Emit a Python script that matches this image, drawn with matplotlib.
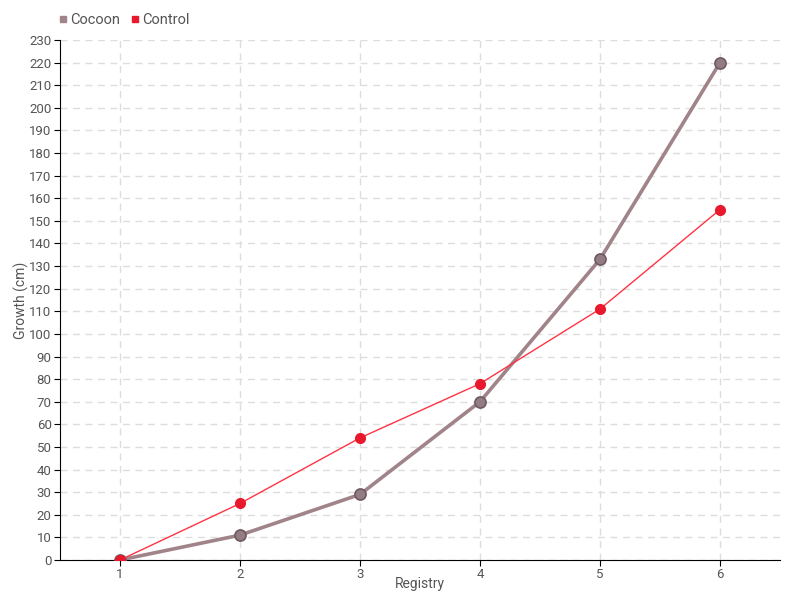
import matplotlib
matplotlib.use('Agg')
import matplotlib.pyplot as plt
from matplotlib.lines import Line2D

plt.rcParams['font.family'] = ['Roboto', 'DejaVu Sans']

registry = [1, 2, 3, 4, 5, 6]
cocoon = [0, 11, 29, 70, 133, 220]
control = [0, 25, 54, 78, 111, 155]

fig = plt.figure(figsize=(8, 6), dpi=100)
ax = fig.add_axes([60 / 800, 40 / 600, 720 / 800, 520 / 600])

ax.plot(registry, cocoon, color='#a08489', lw=2.6, marker='o', ms=8,
        mfc='#947c84', mec='#6e5a60', mew=1.2, zorder=3)
ax.plot(registry, control, color='#ff3344', lw=1, marker='o', ms=7,
        mfc='#e8192c', mec='#e8192c', zorder=4)

ax.set_xlim(0.5, 6.5)
ax.set_ylim(0, 230)
ax.set_xticks(registry)
ax.set_yticks(range(0, 231, 10))
ax.grid(True, color='#dddddd', linestyle=(0, (5, 4)), lw=1)
ax.set_axisbelow(True)
for s in ['top', 'right']:
    ax.spines[s].set_visible(False)
ax.spines['left'].set_color('black')
ax.spines['bottom'].set_color('black')
ax.tick_params(labelcolor='#555555', labelsize=9.5, length=4, pad=2, color='black')
ax.set_xlabel('Registry', color='#555555', fontsize=10)
ax.set_ylabel('Growth (cm)', color='#555555', fontsize=10)
ax.xaxis.set_label_coords(0.5, -0.032)
ax.yaxis.set_label_coords(-0.043, 0.5)

handles = [Line2D([], [], marker='s', ls='none', color='#a08489', ms=5),
           Line2D([], [], marker='s', ls='none', color='#e8192c', ms=5)]
fig.legend(handles, ['Cocoon', 'Control'], loc='upper left',
           bbox_to_anchor=(0.055, 1.0), ncol=2, frameon=False,
           handletextpad=0.1, columnspacing=0.6, fontsize=10.5,
           labelcolor='#555555', handlelength=0.8)

fig.savefig('out.png')
